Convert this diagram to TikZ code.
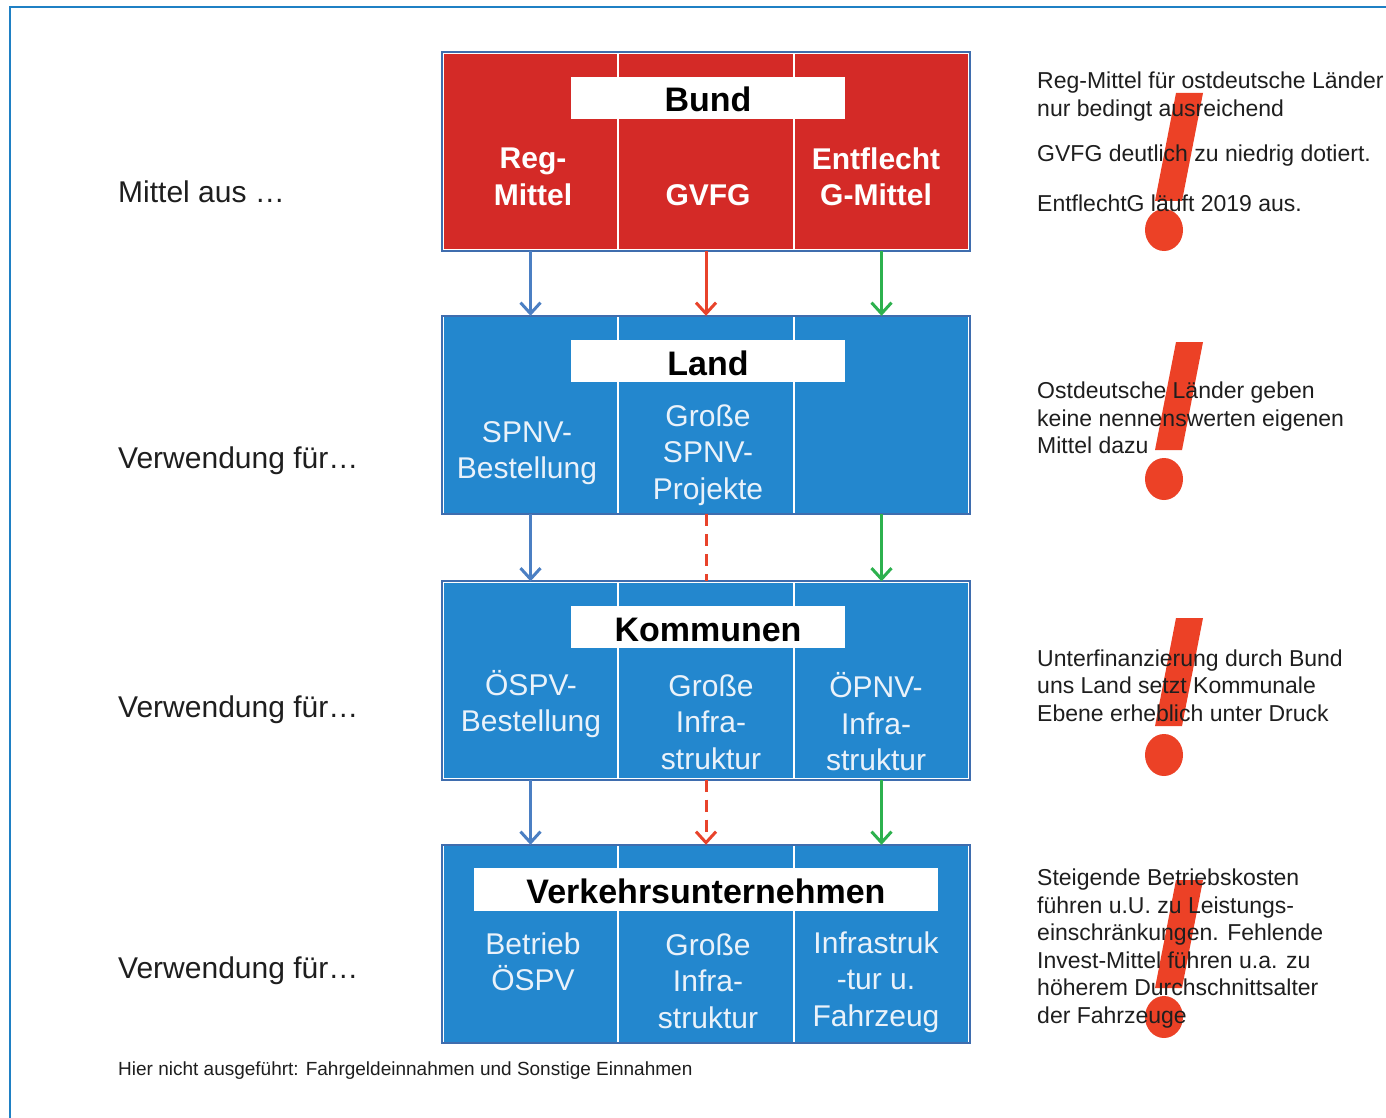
\documentclass[tikz,border=0pt]{standalone}
\usepackage{fontspec}
\setmainfont{Liberation Sans}
\usetikzlibrary{arrows.meta}
\definecolor{framec}{HTML}{1F80C4}
\definecolor{redfill}{HTML}{D42A27}
\definecolor{bluefill}{HTML}{2387CE}
\definecolor{boxborder}{HTML}{3F6DAE}
\definecolor{arrblue}{HTML}{4B7FC3}
\definecolor{arrred}{HTML}{E8432B}
\definecolor{arrgreen}{HTML}{2DB14E}
\definecolor{excl}{HTML}{EC4126}
\definecolor{txt}{HTML}{1E1E1E}
\definecolor{paletxt}{HTML}{EAF2FA}
\begin{document}
\begin{tikzpicture}[x=1pt,y=-1pt,
 col/.style={rectangle, inner sep=0pt, minimum height=197pt, draw=white, line width=1.3pt},
 redcol/.style={col, fill=redfill},
 bluecol/.style={col, fill=bluefill},
 border/.style={draw=boxborder, line width=2pt},
 titlebox/.style={rectangle, fill=white, inner sep=0pt, minimum height=42pt, text height=28pt, text depth=0pt, font=\fontsize{34}{40}\selectfont\bfseries, text=black},
 coltext/.style={align=center, inner sep=0pt, font=\fontsize{30}{36.5}\selectfont, text=paletxt},
 bundtext/.style={align=center, inner sep=0pt, font=\fontsize{30}{36.5}\selectfont\bfseries, text=white},
 lefttext/.style={anchor=west, inner sep=0pt, font=\fontsize{30}{36}\selectfont, text=txt},
 righttext/.style={anchor=west, align=left, inner sep=0pt, text=txt, font=\fontsize{23}{27.6}\selectfont},
 flow/.style={line width=3pt, -{Straight Barb[length=11pt,width=20pt]}},
 dashflow/.style={line width=3pt, dash pattern=on 12pt off 8pt},
]
\useasboundingbox (0,0) rectangle (1386,1118);
\fill[white] (0,0) rectangle (1386,1118);
\draw[framec, line width=2pt] (1386,7) -- (10,7) -- (10,1118);

% exclamation marks
\foreach \t in {93,342,618,880} {
  \fill[excl] (1176,\t) -- (1203,\t) -- (1182,\t+108) -- (1155,\t+108) -- cycle;
  \fill[excl] (1164,\t+137) ellipse [x radius=19pt, y radius=21pt];
}

% Bund level
\node[redcol, minimum width=175pt] (bA) at (530.5,151.5) {};
\node[redcol, minimum width=176pt] (bB) at (706,151.5) {};
\node[redcol, minimum width=175pt] (bC) at (881.5,151.5) {};
\draw[border] (bA.north west) rectangle (bC.south east);
\node[titlebox, minimum width=274pt] (tBund) at (708,98) {Bund};
\node[bundtext] (bAt) at (533,177) {Reg-\\Mittel};
\node[bundtext] (bBt) at (708,195) {GVFG};
\node[bundtext] (bCt) at (876,177) {Entflecht\\G-Mittel};

% Land level
\node[bluecol, minimum width=175pt] (lA) at (530.5,415) {};
\node[bluecol, minimum width=176pt] (lB) at (706,415) {};
\node[bluecol, minimum width=175pt] (lC) at (881.5,415) {};
\draw[border] (lA.north west) rectangle (lC.south east);
\node[titlebox, minimum width=274pt] (tLand) at (708,361) {Land};
\node[coltext] (lAt) at (527,453) {SPNV-\\Bestellung};
\node[coltext] (lBt) at (708,455) {Große\\SPNV-\\Projekte};

% Kommunen level
\node[bluecol, minimum width=175pt] (kA) at (530.5,680.5) {};
\node[bluecol, minimum width=176pt] (kB) at (706,680.5) {};
\node[bluecol, minimum width=175pt] (kC) at (881.5,680.5) {};
\draw[border] (kA.north west) rectangle (kC.south east);
\node[titlebox, minimum width=274pt] (tKom) at (708,627) {Kommunen};
\node[coltext] (kAt) at (531,704) {ÖSPV-\\Bestellung};
\node[coltext] (kBt) at (711,722) {Große\\Infra-\\struktur};
\node[coltext] (kCt) at (876,722) {ÖPNV-\\Infra-\\struktur};

% Verkehrsunternehmen level
\node[bluecol, minimum width=175pt] (vA) at (530.5,944) {};
\node[bluecol, minimum width=176pt] (vB) at (706,944) {};
\node[bluecol, minimum width=175pt] (vC) at (881.5,944) {};
\draw[border] (vA.north west) rectangle (vC.south east);
\node[titlebox, minimum width=464pt, minimum height=43pt] (tVU) at (706,889.5) {Verkehrsunternehmen};
\node[coltext] (vAt) at (533,962) {Betrieb\\ÖSPV};
\node[coltext] (vBt) at (708,981) {Große\\Infra-\\struktur};
\node[coltext] (vCt) at (876,982) {Infrastruk\\-tur u.\\Fahrzeug};

% connectors
\draw[flow, arrblue] (bA.south) -- (lA.north);
\draw[flow, arrred] (bB.south) -- (lB.north);
\draw[flow, arrgreen] (bC.south) -- (lC.north);
\draw[flow, arrblue] (lA.south) -- (kA.north);
\draw[dashflow, arrred] (lB.south) -- (kB.north);
\draw[flow, arrgreen] (lC.south) -- (kC.north);
\draw[flow, arrblue] (kA.south) -- (vA.north);
\draw[flow, arrred, dash pattern=on 12pt off 8pt] (kB.south) -- (vB.north);
\draw[flow, arrgreen] (kC.south) -- (vC.north);

% left labels
\node[lefttext] (L1) at (118,192) {Mittel aus …};
\node[lefttext] (L2) at (118,461) {Verwendung für…};
\node[lefttext] (L3) at (118,710) {Verwendung für…};
\node[lefttext] (L4) at (118,971) {Verwendung für…};

% right remarks
\node[righttext] (r1) at (1037,96.5) {Reg-Mittel für ostdeutsche Länder\\nur bedingt ausreichend};
\node[righttext] (r2) at (1037,156) {GVFG deutlich zu niedrig dotiert.};
\node[righttext] (r3) at (1037,203) {EntflechtG läuft 2019 aus.};
\node[righttext] (r4) at (1037,418) {Ostdeutsche Länder geben\\keine nennenswerten eigenen\\Mittel dazu};
\node[righttext] (r5) at (1037,685.5) {Unterfinanzierung durch Bund\\uns Land setzt Kommunale\\Ebene erheblich unter Druck};
\node[righttext] (r6) at (1037,948.5) {Steigende Betriebskosten\\führen u.U. zu Leistungs-\\einschränkungen. Fehlende\\Invest-Mittel führen u.a. zu\\höherem Durchschnittsalter\\der Fahrzeuge};

% footer
\node[anchor=west, inner sep=0pt, font=\fontsize{19}{22}\selectfont, text=txt] (foot) at (118,1071) {Hier nicht ausgeführt: Fahrgeldeinnahmen und Sonstige Einnahmen};
\end{tikzpicture}
\end{document}
